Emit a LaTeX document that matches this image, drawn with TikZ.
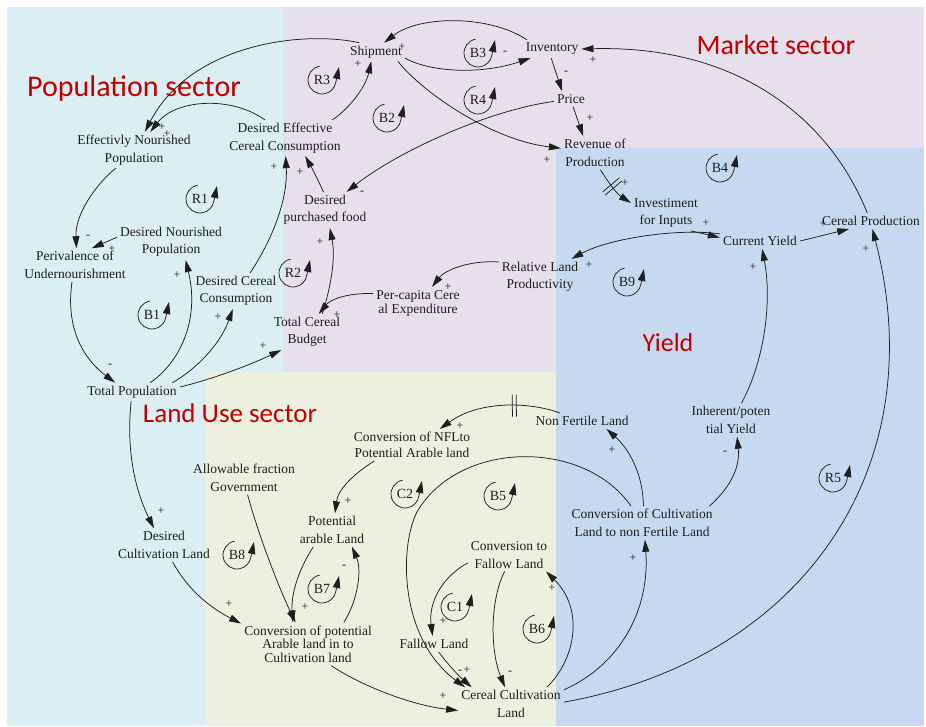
\documentclass[tikz,border=0pt]{standalone}
\usepackage{fontspec}
\setmainfont{Liberation Serif}
\newfontfamily\tnr{Liberation Serif}
\newfontfamily\sectfont{Carlito}
\usetikzlibrary{arrows.meta,decorations.markings}
\definecolor{popbg}{HTML}{DAEEF3}
\definecolor{mktbg}{HTML}{E5E0EC}
\definecolor{landbg}{HTML}{EBF1DE}
\definecolor{yldbg}{HTML}{C6D9F1}
\definecolor{sectred}{HTML}{C00000}
\definecolor{ink}{HTML}{1E1E1E}
\newcommand\loopmk[3]{%
  \node[lbl] (#1) at (#2) {#3};
  \draw[loopa] ([shift={(100:14pt)}]#1.center) arc[start angle=100,end angle=350,radius=14pt] -- ([shift={(17pt,13pt)}]#1.center);}
\begin{document}
\begin{tikzpicture}[x=1pt,y=-1pt,
  var/.style={font=\tnr\fontsize{13.5}{17.5}\selectfont, align=center, inner sep=3pt, text=ink},
  cl/.style={draw=ink, line width=0.75pt, -{Triangle[length=12pt,width=7pt]}},
  pl/.style={font=\tnr\fontsize{12}{12}\selectfont, inner sep=0pt, text=ink},
  sect/.style={font=\sectfont\fontsize{28}{30}\selectfont, text=sectred, inner sep=0pt},
  lbl/.style={font=\tnr\fontsize{14}{14}\selectfont, inner sep=0pt, text=ink},
  loopa/.style={draw=ink, line width=0.75pt, -{Triangle[length=12pt,width=7.5pt]}},
  delaymark/.style={postaction={decorate}, decoration={markings, mark=at position #1 with {\draw[arrows=-, line width=0.75pt] (-2pt,-11pt)--(-2pt,11pt) (2pt,-11pt)--(2pt,11pt);}}}
]
\useasboundingbox (0,0) rectangle (926,727);
\fill[white] (0,0) rectangle (926,727);
\fill[popbg] (7,7) rectangle (283,726);
\fill[mktbg] (283,7) rectangle (924,372);
\fill[yldbg] (556,148) rectangle (924,726);
\fill[landbg] (206,372) rectangle (556,726);

% sector titles
\node[sect,font=\sectfont\fontsize{30}{32}\selectfont] (tpop) at (134,89) {Population sector};
\node[sect] (tmkt) at (776,45) {Market sector};
\node[sect,font=\sectfont\fontsize{26}{28}\selectfont] (tyld) at (668,343) {Yield};
\node[sect,font=\sectfont\fontsize{27}{29}\selectfont] (tland) at (230,413) {Land Use sector};

% variables
\node[var] (ship) at (376,52) {Shipment};
\node[var] (inv) at (552,49) {Inventory};
\node[var] (price) at (571,99) {Price};
\node[var] (rev) at (595,153) {Revenue of\\Production};
\node[var] (invest) at (666,213) {Investiment\\for Inputs};
\node[var] (cy) at (760,241) {Current Yield};
\node[var] (cp) at (871,221) {Cereal Production};
\node[var] (rlp) at (540,277) {Relative Land\\Productivity};
\node[var,font=\tnr\fontsize{13.5}{14}\selectfont] (pce) at (418,303) {Per-capita Cere\\al Expenditure};
\node[var] (tcb) at (307,332) {Total Cereal\\Budget};
\node[var] (dpf) at (325,210) {Desired\\purchased food};
\node[var] (decc) at (285,138) {Desired Effective\\Cereal Consumption};
\node[var] (enp) at (134,150) {Effectivly Nourished\\Population};
\node[var] (dnp) at (171,242) {Desired Nourished\\Population};
\node[var] (pou) at (75,265) {Perivalence of\\Undernourishment};
\node[var] (dcc) at (236,291) {Desired Cereal\\Consumption};
\node[var] (tp) at (132,392) {Total Population};
\node[var] (dcl) at (164,545) {Desired\\Cultivation Land};
\node[var] (afg) at (244,478) {Allowable fraction\\Government};
\node[var] (pal) at (332,530) {Potential\\arable Land};
\node[var,font=\tnr\fontsize{13.5}{13.5}\selectfont] (cpal) at (308,644) {Conversion of potential\\Arable land in to\\Cultivation land};
\node[var,font=\tnr\fontsize{13.5}{16}\selectfont] (cnfl) at (412,445) {Conversion of NFLto\\Potential Arable land};
\node[var] (nfl) at (582,421) {Non Fertile Land};
\node[var] (iy) at (731,420) {Inherent/poten\\tial Yield};
\node[var] (cclnfl) at (642,523) {Conversion of Cultivation\\Land to non Fertile Land};
\node[var] (cfl) at (509,555) {Conversion to\\Fallow Land};
\node[var] (fl) at (434,644) {Fallow Land};
\node[var] (ccl) at (511,704) {Cereal Cultivation\\Land};

% connectors
\draw[cl] (ship.151) .. controls (300,30) and (190,45) .. (enp.59);
\draw[cl] (decc.138) .. controls (230,95) and (175,100) .. (enp.48);
\draw[cl] (decc.21) .. controls (345,112) and (365,90) .. (ship.-117);
\draw[cl] (ship.-12) .. controls (430,72) and (480,75) .. (inv.-157);
\draw[cl] (inv.160) .. controls (490,15) and (420,15) .. (ship.49);
\draw[cl] (inv.-95) -- (price.139);
\draw[cl] (price.-75) -- (rev.125);
\draw[cl] (ship.-23) .. controls (420,90) and (490,140) .. (rev.172);
\draw[cl] (price.-172) .. controls (490,110) and (400,150) .. (dpf.40);
\draw[cl,delaymark=0.45] (rev.-72) .. controls (608,182) and (617,194) .. (invest.164);
\draw[cl] (invest.-36) -- (cy.175);
\draw[cl] (cy.0) -- (cp.-160);
\draw[cl] (cp.115) .. controls (830,120) and (740,45) .. (inv.0);
\draw[cl] (cy.170) .. controls (680,228) and (610,238) .. (rlp.30);
\draw[cl] (rlp.160) .. controls (470,260) and (445,270) .. (pce.49);
\draw[cl] (pce.168) .. controls (345,293) and (330,300) .. (tcb.57);
\draw[cl] (tcb.50) .. controls (330,290) and (336,260) .. (dpf.-75);
\draw[cl] (dpf.95) .. controls (318,180) and (313,170) .. (decc.-42);
\draw[cl] (dcc.52) .. controls (272,240) and (288,200) .. (decc.-88);
\draw[cl] (enp.-135) .. controls (95,185) and (75,215) .. (pou.85);
\draw[cl] (dnp.175) -- (pou.45);
\draw[cl] (pou.-100) .. controls (65,330) and (85,360) .. (tp.151);
\draw[cl] (tp.27) .. controls (180,362) and (200,320) .. (dnp.-51);
\draw[cl] (tp.13) .. controls (195,370) and (220,345) .. (dcc.-100);
\draw[cl] (tp.6) .. controls (210,380) and (250,365) .. (tcb.-145);
\draw[cl] (tp.-95) .. controls (126,450) and (135,490) .. (dcl.121);
\draw[cl] (dcl.-63) .. controls (185,585) and (205,605) .. (cpal.163);
\draw[cl] (afg.-78) .. controls (260,540) and (280,590) .. (cpal.120);
\draw[cl] (pal.-138) .. controls (298,570) and (291,595) .. (cpal.125);
\draw[cl] (cpal.31) .. controls (358,600) and (362,570) .. (pal.-40);
\draw[cl] (cpal.-43) .. controls (360,685) and (410,705) .. (ccl.-173);
\draw[cl] (cnfl.-157) .. controls (352,475) and (338,490) .. (pal.80);
\draw[cl,delaymark=0.37] (nfl.160) .. controls (530,402) and (480,400) .. (cnfl.30);
\draw[cl] (cclnfl.85) .. controls (643,475) and (630,450) .. (nfl.-18);
\draw[cl] (cclnfl.14) .. controls (733,485) and (740,465) .. (iy.-70);
\draw[cl] (iy.58) .. controls (765,360) and (772,300) .. (cy.-75);
\draw[cl] (ccl.2) .. controls (800,660) and (935,470) .. (cp.-80);
\draw[cl] (cclnfl.123) .. controls (585,440) and (465,440) .. (420,507) .. controls (400,535) and (395,635) .. (ccl.160);
\draw[cl] (cfl.-169) .. controls (445,575) and (428,600) .. (fl.100);
\draw[cl] (fl.-60) .. controls (450,667) and (460,677) .. (ccl.157);
\draw[cl] (cfl.-105) .. controls (490,600) and (490,650) .. (ccl.110);
\draw[cl] (ccl.25) .. controls (575,660) and (585,610) .. (cfl.-24);
\draw[cl] (ccl.15) .. controls (620,665) and (650,610) .. (cclnfl.-80);

% polarity signs
\foreach \n/\p/\s in {1/{162,127}/+, 2/{167,134}/+, 3/{358,64}/+, 4/{402,47}/+, 5/{505,53}/-, 6/{566,73}/-, 7/{590,118}/+, 8/{547,160}/+, 9/{625,183}/+, 10/{593,60}/+, 11/{362,193}/-, 12/{706,223}/+, 13/{823,224}/+, 14/{589,265}/+, 15/{448,287}/+, 16/{337,315}/+, 17/{320,242}/+, 18/{300,172}/+, 19/{274,167}/+, 20/{88,237}/-, 21/{112,249}/+, 22/{110,366}/-, 23/{177,275}/+, 24/{218,317}/+, 25/{263,346}/+, 26/{161,511}/+, 27/{229,604}/+, 28/{305,607}/+, 29/{344,567}/-, 30/{443,696}/+, 31/{348,501}/+, 32/{460,426}/+, 33/{612,450}/+, 34/{725,453}/-, 35/{753,267}/+, 36/{866,249}/+, 37/{460,672}/-, 38/{467,670}/+, 39/{443,621}/+, 40/{510,673}/-, 41/{552,588}/+, 42/{633,558}/+}
  {\node[pl] (s\n) at (\p) {\s};}

% loop markers
\loopmk{lR3}{322,80}{R3}
\loopmk{lB3}{478,53}{B3}
\loopmk{lR4}{478,100}{R4}
\loopmk{lB2}{387,118}{B2}
\loopmk{lR1}{200,199}{R1}
\loopmk{lR2}{293,273}{R2}
\loopmk{lB1}{152,315}{B1}
\loopmk{lB4}{720,168}{B4}
\loopmk{lB9}{627,282}{B9}
\loopmk{lC2}{405,494}{C2}
\loopmk{lB5}{498,496}{B5}
\loopmk{lR5}{833,478}{R5}
\loopmk{lB8}{237,555}{B8}
\loopmk{lB7}{322,589}{B7}
\loopmk{lC1}{455,607}{C1}
\loopmk{lB6}{537,629}{B6}
\end{tikzpicture}
\end{document}
